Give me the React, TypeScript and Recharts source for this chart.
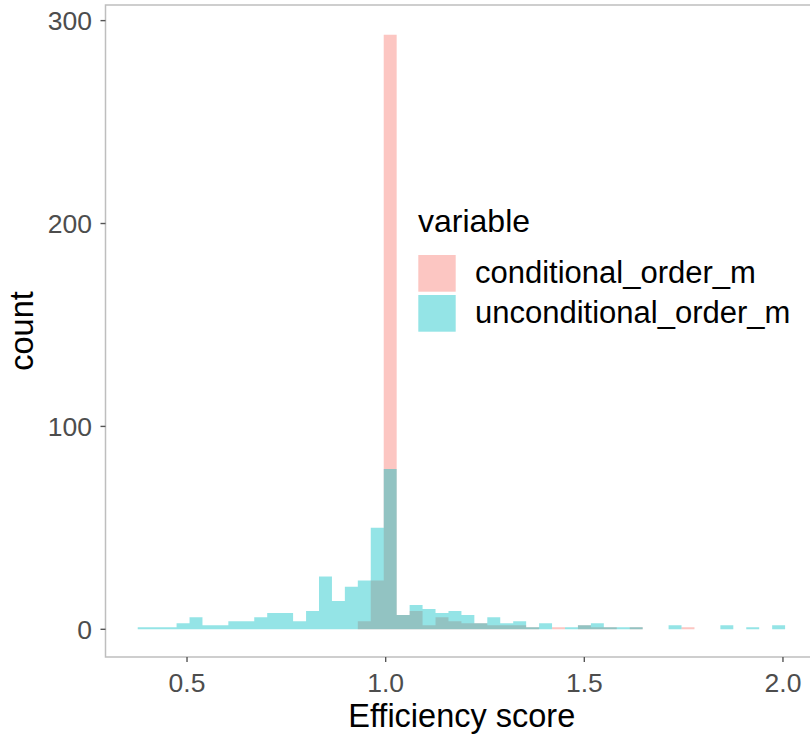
import React from 'react';
import { ComposedChart, Area, XAxis, YAxis, Legend, ReferenceArea } from 'recharts';

// Histogram bin edges (Efficiency score), 50 bins
const binEdges = [
  0.3759, 0.4085, 0.4411, 0.4737, 0.5063, 0.5389, 0.5714, 0.604, 0.6366, 0.6692,
  0.7018, 0.7344, 0.767, 0.7996, 0.8322, 0.8648, 0.8973, 0.9299, 0.9625, 0.9951,
  1.0277, 1.0603, 1.0929, 1.1255, 1.1581, 1.1907, 1.2232, 1.2558, 1.2884, 1.321,
  1.3536, 1.3862, 1.4188, 1.4514, 1.484, 1.5166, 1.5491, 1.5817, 1.6143, 1.6469,
  1.6795, 1.7121, 1.7447, 1.7773, 1.8099, 1.8425, 1.875, 1.9076, 1.9402, 1.9728,
  2.0054,
];

// counts per bin
const conditionalCounts = [
  0, 0, 0, 0, 0, 0, 0, 0, 0, 0,
  0, 0, 0, 0, 0, 0, 0, 4, 24, 293,
  7, 9, 2, 6, 4, 3, 3, 2, 2, 2,
  1, 0, 1, 0, 2, 1, 1, 0, 1, 0,
  0, 0, 1, 0, 0, 0, 0, 0, 0, 0,
];
const unconditionalCounts = [
  1, 1, 1, 3, 6, 2, 2, 4, 4, 6,
  8, 8, 4, 9, 26, 14, 21, 24, 50, 79,
  7, 12, 10, 8, 9, 7, 3, 6, 3, 4,
  1, 3, 0, 1, 2, 3, 1, 1, 1, 0,
  0, 2, 0, 0, 0, 2, 0, 1, 0, 2,
];

const seriesNames = ['conditional_order_m', 'unconditional_order_m'];
const seriesColors: Record<string, string> = {
  conditional_order_m: '#F8766D',
  unconditional_order_m: '#00BFC4',
};
const xTicks = [0.5, 1.0, 1.5, 2.0];
const yTicks = [0, 100, 200, 300];
const xDomain = [0.2948, 2.0882];
const yDomain = [-13.65, 307.7];
const ALPHA = 0.42;

const data = binEdges.map((edge, i) => ({
  x: edge,
  conditional_order_m: i < conditionalCounts.length ? conditionalCounts[i] : 0,
  unconditional_order_m: i < unconditionalCounts.length ? unconditionalCounts[i] : 0,
}));

const FONT = '"Liberation Sans", Arial, Helvetica, sans-serif';

function LegendBox(props: any) {
  const payload = (props.payload || []) as any[];
  return (
    <svg width={400} height={150} style={{ display: 'block', overflow: 'visible' }}>
      <text x={13} y={41.7} fontSize={32} fill="#000" fontFamily={FONT}>variable</text>
      {payload.map((entry: any, i: number) => (
        <g key={String(entry.value)}>
          <rect
            x={13.3}
            y={65 + i * 40}
            width={37.4}
            height={36.7}
            fill={seriesColors[entry.value]}
            fillOpacity={ALPHA}
          />
          <text x={70} y={93.3 + i * 40} fontSize={31} fill="#000" fontFamily={FONT}>
            {entry.value}
          </text>
        </g>
      ))}
    </svg>
  );
}

export default function App() {
  return (
    <div
      style={{
        position: 'absolute',
        left: 0,
        top: 0,
        width: 810,
        height: 740,
        overflow: 'hidden',
        background: '#fff',
      }}
    >
      <ComposedChart
        width={830}
        height={740}
        data={data}
        margin={{ top: 5, right: 12, bottom: 0, left: 0 }}
      >
        <XAxis
          dataKey="x"
          type="number"
          domain={xDomain}
          allowDataOverflow
          ticks={xTicks}
          tickFormatter={(v: number) => v.toFixed(1)}
          height={83}
          axisLine={false}
          tickSize={5}
          tickMargin={11}
          tickLine={{ stroke: '#555', strokeWidth: 1.4 }}
          tick={{ fill: '#4D4D4D', fontSize: 26.5, fontFamily: FONT }}
          label={{
            value: 'Efficiency score',
            position: 'insideBottom',
            offset: 13,
            fill: '#000',
            fontSize: 32.5,
            fontFamily: FONT,
          }}
        />
        <YAxis
          type="number"
          domain={yDomain}
          allowDataOverflow
          ticks={yTicks}
          width={105.5}
          axisLine={false}
          tickSize={5}
          tickMargin={8.5}
          tickLine={{ stroke: '#555', strokeWidth: 1.4 }}
          tick={{ fill: '#4D4D4D', fontSize: 26.5, fontFamily: FONT }}
          label={{
            value: 'count',
            angle: -90,
            position: 'insideLeft',
            offset: 21.5,
            fill: '#000',
            fontSize: 32.5,
            fontFamily: FONT,
            style: { textAnchor: 'middle' },
          }}
        />
        <ReferenceArea
          x1={xDomain[0]}
          x2={xDomain[1]}
          y1={yDomain[0]}
          y2={yDomain[1]}
          fill="none"
          stroke="#BEBEBE"
          strokeWidth={1.5}
          ifOverflow="visible"
        />
        {seriesNames.map((name) => (
          <Area
            key={name}
            type="stepAfter"
            dataKey={name}
            name={name}
            baseValue={0}
            stroke="none"
            fill={seriesColors[name]}
            fillOpacity={ALPHA}
            dot={false}
            activeDot={false}
            isAnimationActive={false}
          />
        ))}
        <Legend
          layout="vertical"
          align="center"
          verticalAlign="middle"
          wrapperStyle={{ position: 'absolute', left: 405, top: 190, width: 400, height: 150 }}
          content={(props: any) => <LegendBox payload={props.payload} />}
        />
      </ComposedChart>
    </div>
  );
}
